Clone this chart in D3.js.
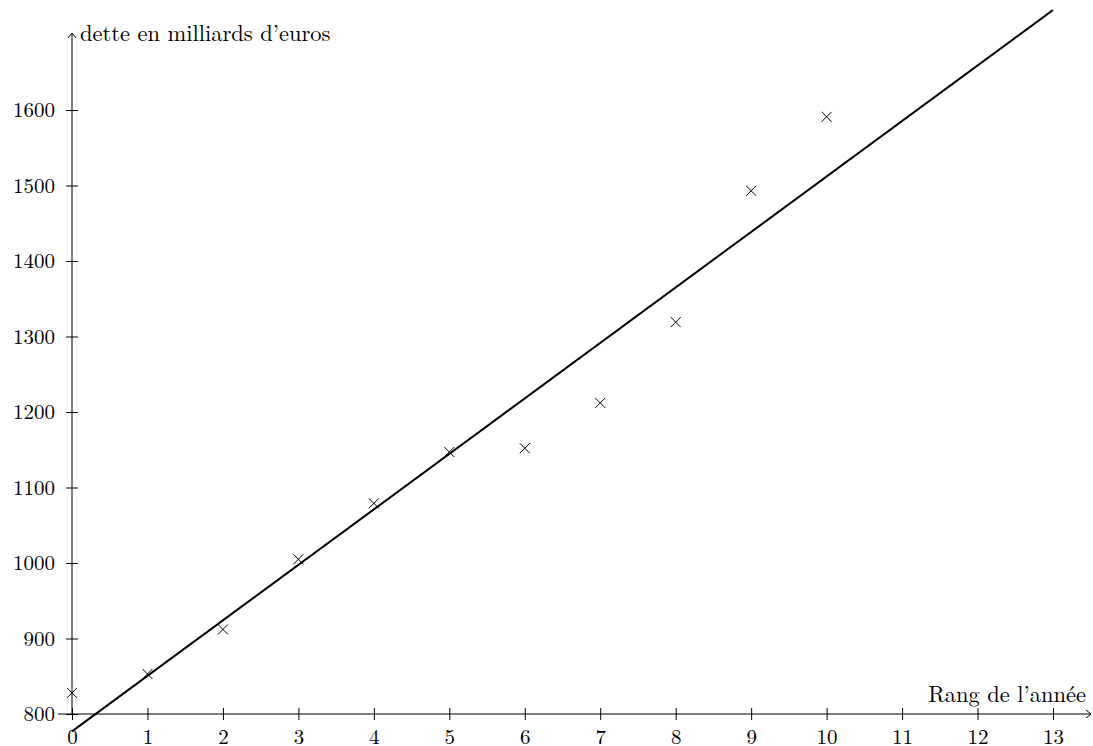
<!DOCTYPE html>
<html>
<head>
<meta charset="utf-8">
<script src="https://cdn.jsdelivr.net/npm/d3@7"></script>
<style>
  body { margin: 0; background: #fff; }
  svg { display: block; }
</style>
</head>
<body>
<div id="chart"></div>
<script>
// data
const years = [0, 1, 2, 3, 4, 5, 6, 7, 8, 9, 10];
const debt = [828, 853, 912, 1005, 1079, 1147, 1152, 1212, 1319, 1493, 1591];
const xTicks = [0, 1, 2, 3, 4, 5, 6, 7, 8, 9, 10, 11, 12, 13];
const yTicks = [800, 900, 1000, 1100, 1200, 1300, 1400, 1500, 1600];
// regression line y = a*x + b, drawn from x=0 to x=13
const lineSlope = 73.5;
const lineIntercept = 777;
const lineRange = [0, 13];

const width = 1093, height = 746;
const font = "'Latin Modern Roman', 'CMU Serif', 'Liberation Serif', serif";

const svg = d3.select("#chart")
    .append("svg")
    .attr("width", width)
    .attr("height", height)
    .style("font-family", font);

const x = d3.scaleLinear().domain([0, 13]).range([72, 1053]);
const y = d3.scaleLinear().domain([800, 1600]).range([714, 110]);

// x axis ticks and labels
const gx = svg.append("g")
    .attr("transform", `translate(0,${y(800)})`)
    .call(d3.axisBottom(x).tickValues(xTicks).tickFormat(d3.format("d"))
        .tickSizeInner(6).tickSizeOuter(0).tickPadding(9));
gx.select(".domain").remove();
gx.selectAll(".tick line").attr("y1", -6).attr("y2", 6).attr("stroke", "#000");
gx.selectAll(".tick text")
    .style("font-family", font)
    .style("font-size", "21px")
    .attr("fill", "#000");

// y axis ticks and labels
const gy = svg.append("g")
    .attr("transform", `translate(${x(0)},0)`)
    .call(d3.axisLeft(y).tickValues(yTicks).tickFormat(d3.format("d"))
        .tickSizeInner(6).tickSizeOuter(0).tickPadding(11));
gy.select(".domain").remove();
gy.selectAll(".tick line").attr("x1", -6).attr("x2", 6).attr("stroke", "#000");
gy.selectAll(".tick text")
    .style("font-family", font)
    .style("font-size", "21px")
    .attr("fill", "#000");

// axis lines with small arrow heads
const ax = svg.append("g").attr("stroke", "#000").attr("fill", "none").attr("stroke-width", 1);
ax.append("line").attr("x1", 58).attr("x2", 1091).attr("y1", y(800)).attr("y2", y(800));
ax.append("path").attr("d", `M1086,${y(800) - 4} L1091,${y(800)} L1086,${y(800) + 4}`);
ax.append("line").attr("x1", x(0)).attr("x2", x(0)).attr("y1", y(800)).attr("y2", 33);
ax.append("path").attr("d", `M${x(0) - 4},38 L${x(0)},33 L${x(0) + 4},38`);

// axis titles
svg.append("text")
    .attr("x", 80)
    .attr("y", 41)
    .style("font-size", "22.5px")
    .text("dette en milliards d’euros");

svg.append("text")
    .attr("x", 1086)
    .attr("y", 702)
    .attr("text-anchor", "end")
    .style("font-size", "22.5px")
    .text("Rang de l’année");

// regression line
svg.append("line")
    .attr("x1", x(lineRange[0]))
    .attr("y1", y(lineSlope * lineRange[0] + lineIntercept))
    .attr("x2", x(lineRange[1]))
    .attr("y2", y(lineSlope * lineRange[1] + lineIntercept))
    .attr("stroke", "#000")
    .attr("stroke-width", 2);

// crosses
const s = 5;
svg.append("g")
    .selectAll("path")
    .data(years.map((d, i) => ({ x: d, y: debt[i] })))
    .join("path")
    .attr("d", d => {
        const cx = x(d.x), cy = y(d.y);
        return `M${cx - s},${cy - s}L${cx + s},${cy + s}M${cx - s},${cy + s}L${cx + s},${cy - s}`;
    })
    .attr("stroke", "#000")
    .attr("stroke-width", 1)
    .attr("fill", "none");
</script>
</body>
</html>
